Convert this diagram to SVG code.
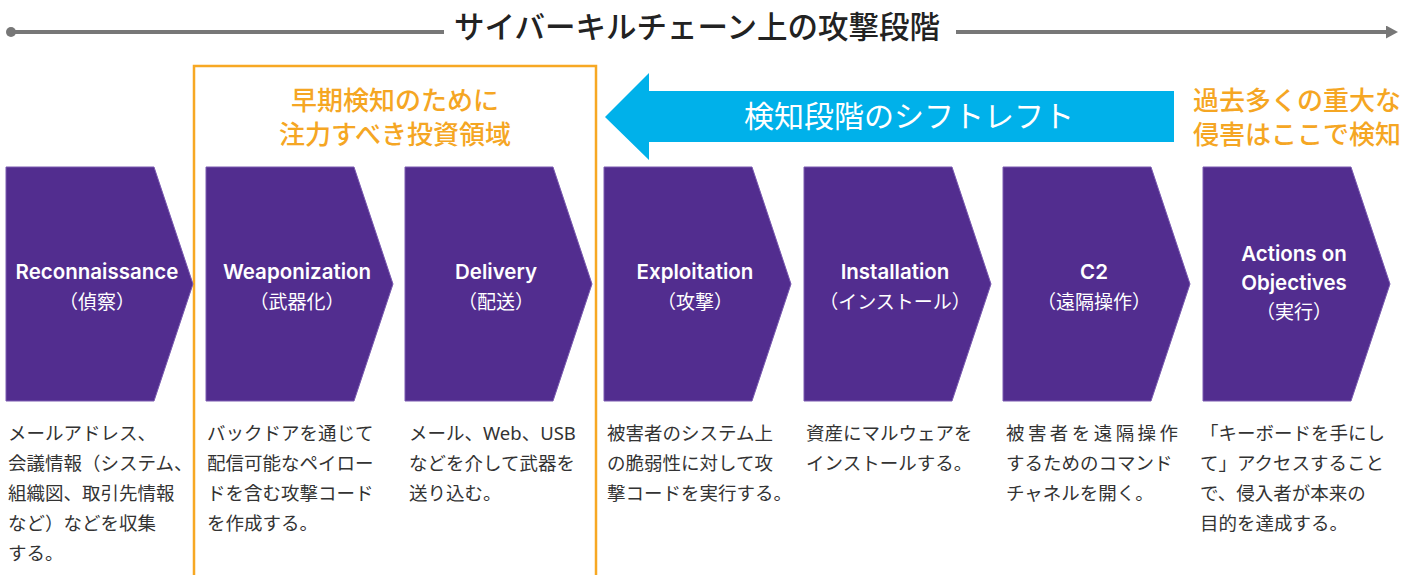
<svg xmlns="http://www.w3.org/2000/svg" width="1416" height="575" viewBox="0 0 1416 575">
  <defs>
    <style>
      .title { font-family: "Noto Sans CJK JP", sans-serif; font-size: 30.5px; font-weight: 500; fill: #222; }
      .orange { font-family: "Noto Sans CJK JP", sans-serif; font-size: 26px; font-weight: 500; fill: #F5A623; }
      .shift { font-family: "Noto Sans CJK JP", sans-serif; font-size: 30px; font-weight: 400; fill: #fff; }
      .chev { fill: #522D8F; stroke: #7A5BB0; stroke-width: 1; }
      .lbl { font-family: Inter, "Noto Sans CJK JP", sans-serif; font-size: 20.5px; font-weight: 600; fill: #fff; text-anchor: middle; }
      .lblj { font-family: "Noto Sans CJK JP", sans-serif; font-size: 19px; font-weight: 400; fill: #fff; text-anchor: middle; }
      .desc { font-family: "Noto Sans", "Noto Sans CJK JP", sans-serif; font-size: 18.5px; fill: #333; }
      .axis { stroke: #777; stroke-width: 4; fill: none; }
    </style>
    <marker id="axisArrow" viewBox="0 0 12 13" refX="0" refY="6.5" markerWidth="12" markerHeight="13" markerUnits="userSpaceOnUse" orient="auto">
      <path d="M0,0 L12,6.5 L0,13 Z" fill="#777"/>
    </marker>
  </defs>

  <g id="connectors">
    <circle cx="11" cy="32" r="5" fill="#777"/>
    <line class="axis" x1="11" y1="32" x2="444" y2="32"/>
    <line class="axis" x1="956" y1="32" x2="1386" y2="32" marker-end="url(#axisArrow)"/>
  </g>

  <g id="title">
    <text class="title" x="697" y="38" text-anchor="middle">サイバーキルチェーン上の攻撃段階</text>
  </g>

  <g id="early-detection-box">
    <rect x="194" y="66" width="402" height="540" fill="none" stroke="#F7A823" stroke-width="2.5"/>
    <text class="orange" x="395" y="110" text-anchor="middle">早期検知のために</text>
    <text class="orange" x="395" y="144" text-anchor="middle">注力すべき投資領域</text>
  </g>

  <g id="shift-left">
    <path d="M605,117 L649,73 L649,91 L1174,91 L1174,142 L649,142 L649,160 Z" fill="#00B1EA"/>
    <text class="shift" x="909" y="127" text-anchor="middle">検知段階のシフトレフト</text>
  </g>

  <g id="past-detection">
    <text class="orange" x="1297" y="110" text-anchor="middle">過去多くの重大な</text>
    <text class="orange" x="1297" y="144" text-anchor="middle">侵害はここで検知</text>
  </g>

  <g id="stage-recon">
    <path class="chev" d="M6,167 H154 L193,284 L154,401 H6 Z"/>
    <text class="lbl" x="97" y="279">Reconnaissance</text>
    <text class="lblj" x="97" y="309">（偵察）</text>
    <text class="desc" x="8" y="440">メールアドレス、</text>
    <text class="desc" x="8" y="470">会議情報（システム、</text>
    <text class="desc" x="8" y="500">組織図、取引先情報</text>
    <text class="desc" x="8" y="530">など）などを収集</text>
    <text class="desc" x="8" y="560">する。</text>
  </g>

  <g id="stage-weaponization">
    <path class="chev" d="M206,167 H354 L393,284 L354,401 H206 Z"/>
    <text class="lbl" x="297" y="279">Weaponization</text>
    <text class="lblj" x="297" y="309">（武器化）</text>
    <text class="desc" x="207" y="440">バックドアを通じて</text>
    <text class="desc" x="207" y="470">配信可能なペイロー</text>
    <text class="desc" x="207" y="500">ドを含む攻撃コード</text>
    <text class="desc" x="207" y="530">を作成する。</text>
  </g>

  <g id="stage-delivery">
    <path class="chev" d="M405,167 H553 L592,284 L553,401 H405 Z"/>
    <text class="lbl" x="496" y="279">Delivery</text>
    <text class="lblj" x="496" y="309">（配送）</text>
    <text class="desc" x="409" y="440">メール、Web、USB</text>
    <text class="desc" x="409" y="470">などを介して武器を</text>
    <text class="desc" x="409" y="500">送り込む。</text>
  </g>

  <g id="stage-exploitation">
    <path class="chev" d="M604,167 H752 L791,284 L752,401 H604 Z"/>
    <text class="lbl" x="695" y="279">Exploitation</text>
    <text class="lblj" x="695" y="309">（攻撃）</text>
    <text class="desc" x="607" y="440">被害者のシステム上</text>
    <text class="desc" x="607" y="470">の脆弱性に対して攻</text>
    <text class="desc" x="607" y="500">撃コードを実行する。</text>
  </g>

  <g id="stage-installation">
    <path class="chev" d="M804,167 H952 L991,284 L952,401 H804 Z"/>
    <text class="lbl" x="895" y="279">Installation</text>
    <text class="lblj" x="895" y="309">（インストール）</text>
    <text class="desc" x="806" y="440">資産にマルウェアを</text>
    <text class="desc" x="806" y="470">インストールする。</text>
  </g>

  <g id="stage-c2">
    <path class="chev" d="M1003,167 H1151 L1190,284 L1151,401 H1003 Z"/>
    <text class="lbl" x="1094" y="279">C2</text>
    <text class="lblj" x="1094" y="309">（遠隔操作）</text>
    <text class="desc" x="1006" y="440" textLength="172" lengthAdjust="spacing">被害者を遠隔操作</text>
    <text class="desc" x="1006" y="470">するためのコマンド</text>
    <text class="desc" x="1006" y="500">チャネルを開く。</text>
  </g>

  <g id="stage-actions">
    <path class="chev" d="M1203,167 H1351 L1390,284 L1351,401 H1203 Z"/>
    <text class="lbl" x="1294" y="261">Actions on</text>
    <text class="lbl" x="1294" y="290">Objectives</text>
    <text class="lblj" x="1294" y="319">（実行）</text>
    <text class="desc" x="1200" y="440">「キーボードを手にし</text>
    <text class="desc" x="1200" y="470">て」アクセスすること</text>
    <text class="desc" x="1200" y="500">で、侵入者が本来の</text>
    <text class="desc" x="1200" y="530">目的を達成する。</text>
  </g>
</svg>
